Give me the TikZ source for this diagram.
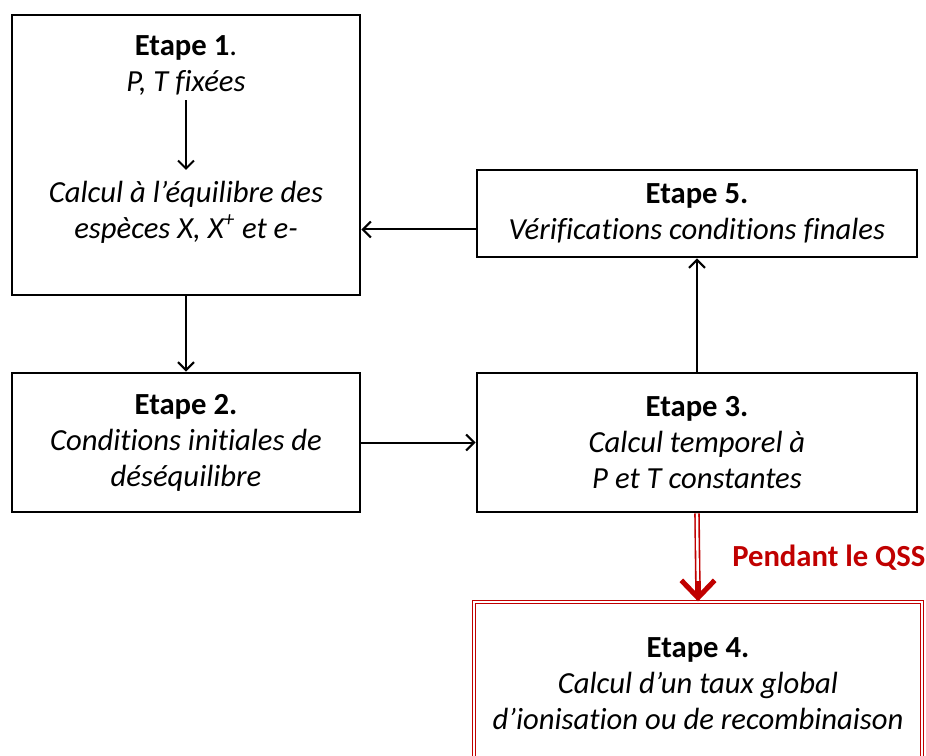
\documentclass[tikz,border=0pt]{standalone}
\usepackage{fontspec}
\setmainfont{Carlito}[Ligatures=NoCommon]
\usetikzlibrary{arrows.meta, positioning, calc}
\definecolor{QssRed}{RGB}{192,0,0}

\tikzset{
  etape/.style={draw, line width=2.2pt, align=center, inner sep=0pt,
                font=\fontsize{23}{27}\selectfont},
  texte/.style={align=center, inner sep=0pt, font=\fontsize{23}{27}\selectfont},
  fleche/.style={line width=1.5pt, -{Straight Barb[length=6pt,width=12pt]}},
}

\begin{document}
\begin{tikzpicture}[x=0.75pt,y=-0.75pt]
  \useasboundingbox (0,0) rectangle (926,756);
  \clip (0,0) rectangle (926,756);
  % boites
  \node[etape, minimum width=261pt, minimum height=210pt] (e1) at (186,155) {};
  \node[texte] (t1) at (186,66) {\textbf{Etape 1}.\\\textit{P, T fixées}};
  \node[texte] (t1b) at (186,212) {\textit{Calcul à l’équilibre des}\\\textit{espèces X, X\textsuperscript{+} et e-}};
  \node[etape, minimum width=330pt, minimum height=65.25pt] (e5) at (697,213.5)
    {\textbf{Etape 5.}\\\textit{Vérifications conditions finales}};
  \node[etape, minimum width=261pt, minimum height=104.25pt] (e2) at (186,442.5)
    {\textbf{Etape 2.}\\\textit{Conditions initiales de}\\\textit{déséquilibre}};
  \node[etape, minimum width=330pt, minimum height=104.25pt] (e3) at (697,442.5)
    {\textbf{Etape 3.}\\\textit{Calcul temporel à}\\\textit{P et T constantes}};
  \node[etape, draw=QssRed, line width=1pt, double=white, double distance=1.3pt,
        minimum width=336pt, minimum height=123pt] (e4) at (698,684)
    {\textbf{Etape 4.}\\\textit{Calcul d’un taux global}\\\textit{d’ionisation ou de recombinaison}};
  % fleches
  \draw[fleche, shorten <=3pt, shorten >=8pt] (t1) -- (t1b);
  \draw[fleche] (e1) -- (e2);
  \draw[fleche] (e2) -- (e3);
  \draw[fleche] (e3) -- (e5);
  \draw[fleche] ([yshift=-12pt]e5.west) -- ([yshift=-12pt]e5.west -| e1.east);
  % QSS
  \draw[QssRed, line width=1.2pt, double=white, double distance=1.8pt]
    (e3.south) -- ([yshift=4pt]e4.north);
  \draw[QssRed, line width=3.8pt, -{Straight Barb[length=13pt,width=25pt]}]
    ([yshift=15pt]e4.north) -- (e4.north);
  \node[texte, font=\fontsize{23}{27}\selectfont\bfseries, text=QssRed, anchor=west]
    (qss) at (732,558) {Pendant le QSS};
\end{tikzpicture}
\end{document}
